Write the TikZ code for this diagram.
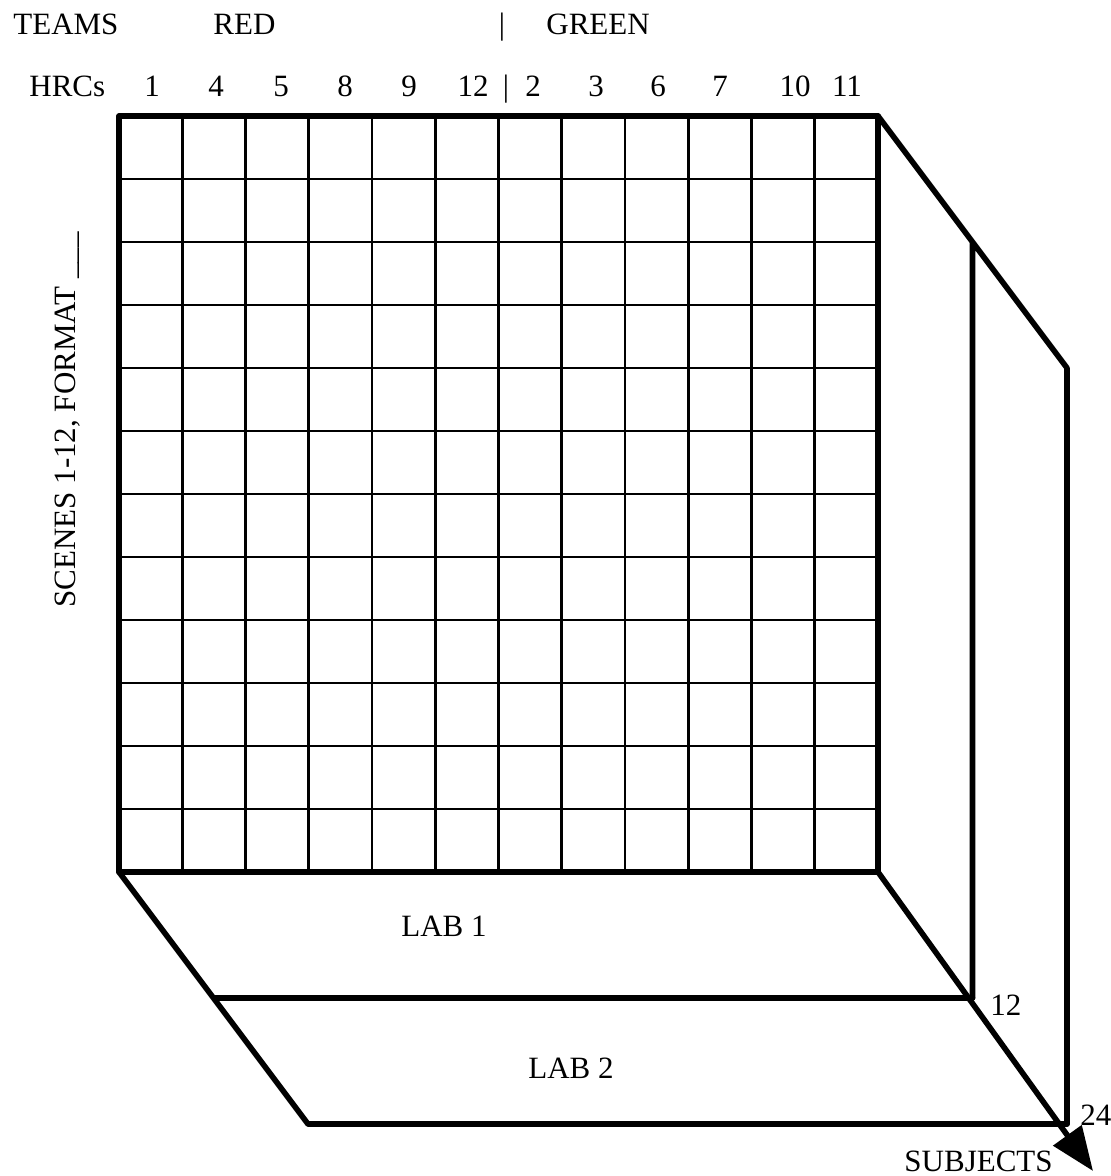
\documentclass[tikz,border=0pt]{standalone}
\usepackage{fontspec}
\setmainfont{Liberation Serif}
\usetikzlibrary{arrows.meta,positioning,calc}
\tikzset{
  lbl/.style={inner sep=0pt,font=\fontsize{15.5}{18}\selectfont},
  rim/.style={line width=2.8pt},
  cell/.style={line width=1.3pt},
  every picture/.style={line cap=round,line join=round}}

\begin{document}
\begin{tikzpicture}[x=0.5pt,y=-0.5pt]
  \useasboundingbox (0,0) rectangle (1111,1176);
  \coordinate (g1) at (119,116);\coordinate (g2) at (878,116);
  \coordinate (g3) at (878,872);\coordinate (g4) at (119,872);
  % labs stacked behind the grid
  \coordinate (a1) at ($(g4)+(94.5,126)$);\coordinate (b1) at ($(g3)+(94.5,126)$);
  \coordinate (c1) at ($(g2)+(94.5,126)$);
  \coordinate (a2) at ($(g4)+(189,252)$);\coordinate (b2) at ($(g3)+(189,252)$);
  \coordinate (c2) at ($(g2)+(189,252)$);
  \coordinate (sj) at (1093,1171);
  \foreach \i in {1,...,11}{
    \draw[cell] ($(g1)!\i/12!(g2)$) -- ($(g4)!\i/12!(g3)$);
    \draw[cell] ($(g1)!\i/12!(g4)$) -- ($(g2)!\i/12!(g3)$);}
  \draw[rim] (g1) rectangle (g3);
  \draw[rim] (g4)--(a1)--(a2) (a1)--(b1) (a2)--(b2);
  \draw[rim] (g2)--(c1)--(c2) (c1)--(b1) (c2)--(b2);
  \draw[rim,-{Triangle[length=22pt,width=17pt]}] (g3)--(sj);
  % headings
  \node[lbl,anchor=base west] (teams) at (13,35){TEAMS};
  \node[lbl,anchor=base west] (red) at (213,35){RED};
  \node[lbl,anchor=base] (bar1) at (502,35){|};
  \node[lbl,anchor=base west] (green) at (546,35){GREEN};
  \node[lbl,anchor=base west] (hrcs) at (29,97){HRCs};
  \foreach \x/\t [count=\j] in {152/1,216/4,281/5,345/8,409/9,473/12,
      533/2,596/3,658/6,720/7,795/10,847/11}
    \node[lbl,anchor=base] (h\j) at (\x,97){\t};
  \node[lbl,anchor=base] (bar2) at (506,97){|};
  \node[lbl,anchor=base west,rotate=90] (scenes) at (75,608){SCENES 1-12, FORMAT \_\_\_};
  \node[lbl] (lab1) at (444,926){LAB 1};
  \node[lbl] (lab2) at (571,1068){LAB 2};
  \node[lbl,anchor=base west] (n12) at (990,1015){12};
  \node[lbl,anchor=base west] (n24) at (1080,1125){24};
  \node[lbl,anchor=base east] (subj) at (1053,1171){SUBJECTS};
\end{tikzpicture}
\end{document}
